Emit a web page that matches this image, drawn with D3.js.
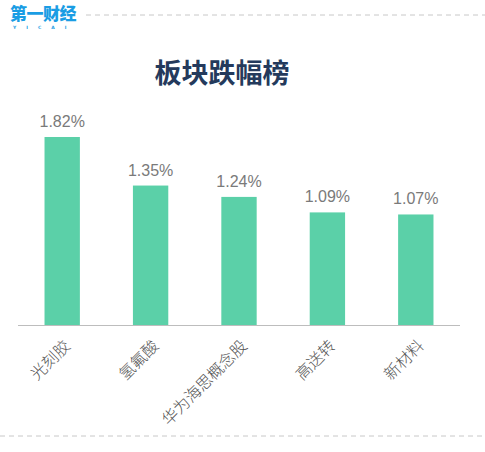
<!DOCTYPE html>
<html><head><meta charset="utf-8">
<script src="https://cdn.jsdelivr.net/npm/d3@7"></script>
<style>html,body{margin:0;padding:0;background:#fff;}svg{display:block;}</style>
</head><body>
<script>
const categories = ["光刻胶", "氢氟酸", "华为海思概念股", "高送转", "新材料"];
const values = [1.82, 1.35, 1.24, 1.09, 1.07];
const title = "板块跌幅榜";

const W = 485, H = 452;
const svg = d3.select("body").append("svg").attr("width", W).attr("height", H);

// logo
const logo = svg.append("g");
logo.append("text").attr("x", 10).attr("y", 20).attr("font-family", "Noto Sans CJK SC").attr("font-weight", 900)
  .attr("font-size", 17).attr("fill", "#1a9de4").attr("letter-spacing", -0.5).text("第一财经");
logo.append("text").attr("x", 13).attr("y", 29).attr("font-family", "DejaVu Sans").attr("font-weight", "bold")
  .attr("font-size", 4.5).attr("fill", "#1a9de4").attr("letter-spacing", 10).text("YICAI");
svg.append("line").attr("x1", 86).attr("x2", W).attr("y1", 15).attr("y2", 15)
  .attr("stroke", "#c8c8c8").attr("stroke-dasharray", "5,4");
svg.append("line").attr("x1", 0).attr("x2", W).attr("y1", 436).attr("y2", 436)
  .attr("stroke", "#c8c8c8").attr("stroke-dasharray", "5,4");

svg.append("text").attr("x", 222).attr("y", 83).attr("text-anchor", "middle")
  .attr("font-family", "Noto Sans CJK SC").attr("font-weight", "bold").attr("font-size", 27)
  .attr("fill", "#243a5c").text(title);

const x = d3.scaleBand().domain(categories).range([18, 460]).paddingInner(0.6).paddingOuter(0.3);
const y = d3.scaleLinear().domain([0, 2]).range([325, 118.4]);

svg.selectAll("rect.bar").data(values).join("rect").attr("class", "bar")
  .attr("x", (d, i) => x(categories[i])).attr("width", x.bandwidth())
  .attr("y", d => y(d)).attr("height", d => y(0) - y(d)).attr("fill", "#5bd0a8");

svg.selectAll("text.val").data(values).join("text").attr("class", "val")
  .attr("x", (d, i) => x(categories[i]) + x.bandwidth() / 2).attr("y", d => y(d) - 10)
  .attr("text-anchor", "middle").attr("font-family", "Liberation Sans, Arial").attr("font-size", 16)
  .attr("fill", "#7a7a7a").text(d => d.toFixed(2) + "%");

const ax = svg.append("g").attr("transform", "translate(0,325)")
  .call(d3.axisBottom(x).tickSize(0).tickSizeOuter(0));
ax.select(".domain").attr("stroke", "#bdbdbd").attr("d", "M18,0.5H460");
ax.selectAll("text").attr("font-family", "Noto Sans CJK SC").attr("font-weight", 300).attr("font-size", 16).attr("fill", "#555")
  .attr("text-anchor", "end").attr("dy", null).attr("y", 0)
  .attr("transform", "translate(9,22) rotate(-45)");
</script>
</body></html>
